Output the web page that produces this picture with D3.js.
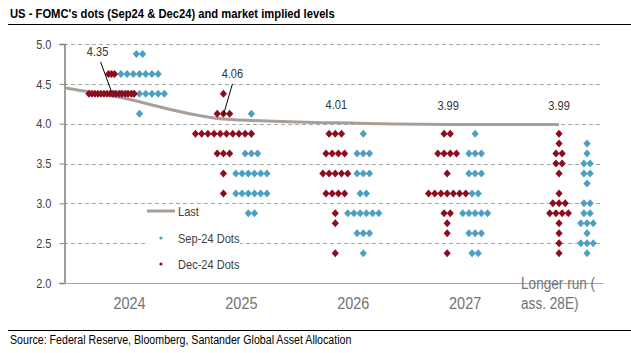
<!DOCTYPE html>
<html>
<head>
<meta charset="utf-8">
<script src="https://cdn.jsdelivr.net/npm/d3@7"></script>
<style>
  body { margin: 0; background: #fff; }
  svg text { font-family: "Liberation Sans Narrow", "Arial Narrow", "Liberation Sans", sans-serif; }
</style>
</head>
<body>
<svg id="chart" width="631" height="353"></svg>
<script>
// categories on the x axis
const categories = ["2024", "2025", "2026", "2027", "Longer run ( ass. 28E)"];
const yTicks = [2.0, 2.5, 3.0, 3.5, 4.0, 4.5, 5.0];

// FOMC dots: [rate, number of participants] per category
const sepDots = [
  [[4.875, 2], [4.625, 7], [4.375, 9], [4.125, 1]],
  [[4.125, 1], [3.875, 1], [3.625, 3], [3.375, 6], [3.125, 6], [2.875, 2]],
  [[3.875, 1], [3.625, 3], [3.375, 3], [3.125, 2], [2.875, 6], [2.625, 3], [2.375, 1]],
  [[3.875, 1], [3.625, 3], [3.375, 3], [3.125, 2], [2.875, 5], [2.625, 3], [2.375, 2]],
  [[3.75, 1], [3.625, 1], [3.5, 2], [3.375, 2], [3.25, 1], [3.0, 2], [2.875, 2], [2.75, 3], [2.625, 1], [2.5, 3], [2.375, 1]]
];
const decDots = [
  [[4.625, 3], [4.375, 16]],
  [[4.375, 1], [4.125, 3], [3.875, 10], [3.625, 3], [3.375, 1], [3.125, 1]],
  [[3.875, 3], [3.625, 4], [3.375, 5], [3.125, 4], [2.875, 1], [2.75, 1], [2.375, 1]],
  [[3.875, 2], [3.625, 4], [3.375, 1], [3.125, 7], [2.875, 2], [2.75, 1], [2.625, 1], [2.375, 1]],
  [[3.875, 1], [3.75, 1], [3.625, 2], [3.5, 2], [3.375, 1], [3.125, 1], [3.0, 3], [2.875, 4], [2.75, 1], [2.625, 1], [2.5, 1], [2.375, 1]]
];

// market implied path ("Last"), x in category units
const lastX = [-0.55, -0.125, 0.875, 1.875, 2.875, 3.875];
const lastValues = [4.45, 4.35, 4.06, 4.01, 3.99, 3.99];
const lastLabels = ["", "4.35", "4.06", "4.01", "3.99", "3.99"];

const colors = { sep: "#4b9fc1", dec: "#8e0c1e", last: "#a99f96" };

const svg = d3.select("#chart");
const plotL = 64, plotR = 601, plotT = 44, plotB = 283;

const x = d3.scaleLinear().domain([-0.55, 4.25]).range([plotL, plotR]);
const y = d3.scaleLinear().domain([2, 5]).range([plotB, plotT]);

// title + rules
svg.append("text").attr("x", 10).attr("y", 18)
  .style("font-weight", "bold").style("font-size", "13.2px").attr("fill", "#000")
  .text("US - FOMC's dots (Sep24 & Dec24) and market implied levels");
svg.append("line").attr("x1", 8).attr("x2", 631).attr("y1", 24.5).attr("y2", 24.5)
  .attr("stroke", "#000").attr("stroke-width", 1.2);
svg.append("line").attr("x1", 8).attr("x2", 631).attr("y1", 330.5).attr("y2", 330.5)
  .attr("stroke", "#000").attr("stroke-width", 1.2);
svg.append("text").attr("x", 10).attr("y", 344)
  .style("font-size", "12.5px").attr("fill", "#000")
  .text("Source: Federal Reserve, Bloomberg, Santander Global Asset Allocation");

// gridlines
svg.append("g").selectAll("line")
  .data(yTicks.filter(d => d > 2))
  .join("line")
  .attr("x1", plotL).attr("x2", plotR - 1)
  .attr("y1", d => Math.round(y(d)) + 0.5).attr("y2", d => Math.round(y(d)) + 0.5)
  .attr("stroke", "#a6a6a6").attr("stroke-dasharray", "4,3");

// y axis
const yAxis = svg.append("g").attr("transform", `translate(${plotL + 0.5},0)`)
  .call(d3.axisLeft(y).tickValues(yTicks).tickFormat(d3.format(".1f")).tickSize(5).tickPadding(8));
yAxis.select(".domain").attr("stroke", "#7f7f7f").attr("stroke-width", 1.5);
yAxis.selectAll(".tick line").attr("stroke", "#7f7f7f");
yAxis.selectAll(".tick text").style("font-size", "13px").attr("fill", "#404040")
  .style("font-family", null);

// x axis line
svg.append("line").attr("x1", plotL).attr("x2", plotR + 2)
  .attr("y1", plotB + 0.5).attr("y2", plotB + 0.5).attr("stroke", "#a6a6a6").attr("stroke-width", 1.2);

// x labels
svg.append("g").selectAll("text")
  .data(categories.slice(0, 4))
  .join("text")
  .attr("x", (d, i) => x(i) + 4).attr("y", 309)
  .attr("text-anchor", "middle")
  .style("font-size", "17px").attr("fill", "#737373")
  .text(d => d);
["Longer run (", "ass. 28E)"].forEach((t, k) => {
  svg.append("text").attr("x", x(4) - 52).attr("y", 289 + k * 20)
    .style("font-size", "16px").attr("fill", "#737373").text(t);
});

// Last line
const line = d3.line().x((d, i) => x(lastX[i])).y(d => y(d)).curve(d3.curveMonotoneX);
svg.append("path").datum(lastValues)
  .attr("d", line).attr("fill", "none")
  .attr("stroke", colors.last).attr("stroke-width", 3);

// dots
const diamond = "M0,-4L3.6,0L0,4L-3.6,0Z";
function layout(series, side, name) {
  const pts = [];
  series.forEach((rows, i) => {
    const step = (name === "dec" && i === 0) ? 0.027 : 0.0555;
    rows.forEach(([rate, n]) => {
      for (let j = 0; j < n; j++) {
        pts.push({ cx: i + side * 0.125 + (j - (n - 1) / 2) * step, rate });
      }
    });
  });
  return pts;
}
svg.append("g").selectAll("path")
  .data(layout(sepDots, 1, "sep"))
  .join("path")
  .attr("d", diamond)
  .attr("transform", d => `translate(${x(d.cx)},${y(d.rate)})`)
  .attr("fill", colors.sep);
svg.append("g").selectAll("path")
  .data(layout(decDots, -1, "dec"))
  .join("path")
  .attr("d", diamond)
  .attr("transform", d => `translate(${x(d.cx)},${y(d.rate)})`)
  .attr("fill", colors.dec);

// data labels for Last
const labelOffsets = [null, [-14, -45, true], [9, -46, true], [1, -19, false], [1, -19, false], [0, -19, false]];
lastValues.forEach((v, i) => {
  if (!lastLabels[i]) return;
  const px = x(lastX[i]), py = y(v);
  const [dx, dy, leader] = labelOffsets[i];
  if (leader) {
    svg.append("line")
      .attr("x1", px + dx + (dx < 0 ? 3 : 0)).attr("y1", py + dy + 11)
      .attr("x2", px).attr("y2", py - 4)
      .attr("stroke", "#000").attr("stroke-width", 1);
  }
  svg.append("text").attr("x", px + dx).attr("y", py + dy + 5)
    .attr("text-anchor", "middle").style("font-size", "13px").attr("fill", "#333")
    .text(lastLabels[i]);
});

// legend
const lg = svg.append("g");
lg.append("rect").attr("x", 145).attr("y", 205).attr("width", 95).attr("height", 68).attr("fill", "#fff");
lg.append("line").attr("x1", 147).attr("x2", 175).attr("y1", 211).attr("y2", 211)
  .attr("stroke", colors.last).attr("stroke-width", 3);
lg.append("circle").attr("cx", 161).attr("cy", 238).attr("r", 1.6).attr("fill", colors.sep);
lg.append("circle").attr("cx", 161).attr("cy", 264).attr("r", 1.6).attr("fill", colors.dec);
[["Last", 211], ["Sep-24 Dots", 238], ["Dec-24 Dots", 264]].forEach(([t, ly]) => {
  lg.append("text").attr("x", 178).attr("y", ly + 5)
    .style("font-size", "13px").attr("fill", "#404040").text(t);
});

// the original uses a condensed face; squeeze the fallback sans to match
svg.selectAll("text").each(function () {
  const w = this.getComputedTextLength();
  d3.select(this).attr("textLength", w * 0.85).attr("lengthAdjust", "spacingAndGlyphs");
});
</script>
</body>
</html>
